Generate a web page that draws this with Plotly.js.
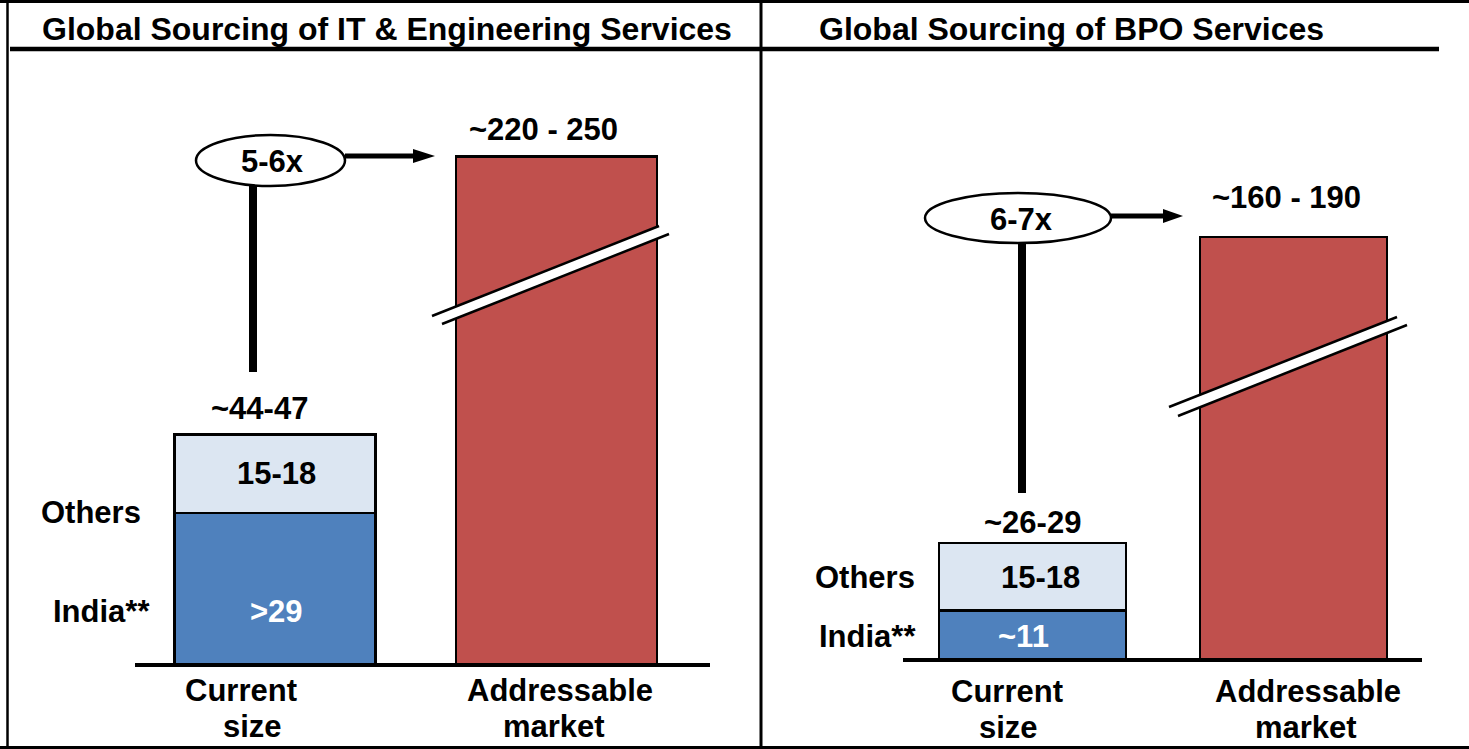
<!DOCTYPE html>
<html>
<head>
<meta charset="utf-8">
<script src="https://cdn.plot.ly/plotly-3.0.1.min.js"></script>
<style>
  html, body { margin: 0; padding: 0; background: #ffffff; }
  #chart { width: 1469px; height: 749px; }
</style>
</head>
<body>
<div id="chart"></div>
<script>
// ---------------- DATA ----------------
const categories = ['Current size', 'Addressable market'];
const categoryLines = [['Current', 'size'], ['Addressable', 'market']];
const panelTitles = ['Global Sourcing of IT & Engineering Services', 'Global Sourcing of BPO Services'];
const seriesNames = ['India**', 'Others'];

// IT & Engineering services (US$ bn); addressable bar is drawn on a broken axis
const itIndia = [29, null];
const itOthers = [15, null];
const itAddressable = [null, 97];
const itValueLabels = ['>29', '15-18', '~44-47', '~220 - 250'];
const itMultiple = '5-6x';

// BPO services (US$ bn); addressable bar is drawn on a broken axis
const bpoIndia = [11, null];
const bpoOthers = [15, null];
const bpoAddressable = [null, 94];
const bpoValueLabels = ['~11', '15-18', '~26-29', '~160 - 190'];
const bpoMultiple = '6-7x';

// ---------------- STYLE ----------------
const W = 1469, H = 749;
const FONT = '"Liberation Sans", Arial, Helvetica, sans-serif';
const C_INDIA = '#4F81BD', C_OTHERS = '#DCE6F2', C_ADDR = '#C0504D';
const OUTLINE = {color: '#000000', width: 2.5};
const BARW = 0.715;

const px = x => x / W;
const py = y => 1 - y / H;

function barTrace(xa, ya, yvals, name, color) {
  return {
    type: 'bar', x: categories, y: yvals, name: name,
    xaxis: xa, yaxis: ya, width: BARW,
    marker: {color: color, line: OUTLINE},
    hoverinfo: 'skip'
  };
}

const traces = [
  barTrace('x', 'y', itIndia, seriesNames[0], C_INDIA),
  barTrace('x', 'y', itOthers, seriesNames[1], C_OTHERS),
  barTrace('x', 'y', itAddressable, categories[1], C_ADDR),
  barTrace('x2', 'y2', bpoIndia, seriesNames[0], C_INDIA),
  barTrace('x2', 'y2', bpoOthers, seriesNames[1], C_OTHERS),
  barTrace('x2', 'y2', bpoAddressable, categories[1], C_ADDR)
];

// ---------------- TEXT ----------------
const annotations = [];
function txt(text, cx, baseline, opts) {
  opts = opts || {};
  const size = opts.size || 31;
  annotations.push({
    text: '<b>' + text + '</b>',
    xref: 'paper', yref: 'paper',
    x: px(cx), y: py(baseline - 0.3465 * size),
    xanchor: opts.anchor || 'center', yanchor: 'middle',
    showarrow: false,
    font: {family: FONT, size: size, color: opts.color || '#000000'}
  });
}

// titles
txt(panelTitles[0], 40, 40, {size: 32, anchor: 'left'});
txt(panelTitles[1], 817, 40, {size: 32, anchor: 'left'});

// IT panel
txt(itValueLabels[3], 543, 140);
txt(itMultiple, 272, 172);
txt(itValueLabels[2], 259, 419);
txt(itValueLabels[1], 276, 484);
txt(itValueLabels[0], 276, 622, {color: '#ffffff'});
txt(seriesNames[1], 91, 523);
txt(seriesNames[0], 101, 622);
txt(categoryLines[0][0], 241, 701);
txt(categoryLines[0][1], 252, 737);
txt(categoryLines[1][0], 560, 701);
txt(categoryLines[1][1], 554, 737);

// BPO panel
txt(bpoValueLabels[3], 1286, 208);
txt(bpoMultiple, 1021, 230);
txt(bpoValueLabels[2], 1032, 533);
txt(bpoValueLabels[1], 1040, 588);
txt(bpoValueLabels[0], 1023, 647, {color: '#ffffff'});
txt(seriesNames[1], 865, 588);
txt(seriesNames[0], 867, 647);
txt(categoryLines[0][0], 1007, 702);
txt(categoryLines[0][1], 1008, 738);
txt(categoryLines[1][0], 1308, 702);
txt(categoryLines[1][1], 1306, 738);

// ---------------- SHAPES ----------------
const shapes = [];
function seg(x0, y0, x1, y1, w, color) {
  shapes.push({type: 'line', xref: 'paper', yref: 'paper',
    x0: px(x0), y0: py(y0), x1: px(x1), y1: py(y1),
    line: {color: color || '#000000', width: w}});
}
function poly(pts, fill) {
  const d = pts.map((p, i) => (i ? 'L' : 'M') + px(p[0]) + ',' + py(p[1])).join(' ') + ' Z';
  shapes.push({type: 'path', xref: 'paper', yref: 'paper', path: d,
    fillcolor: fill, line: {width: 0}});
}
function ellipse(x0, y0, x1, y1) {
  shapes.push({type: 'circle', xref: 'paper', yref: 'paper',
    x0: px(x0), y0: py(y0), x1: px(x1), y1: py(y1),
    fillcolor: '#ffffff', line: {color: '#000000', width: 2.5}});
}
function baseline(yref, x0, x1) {
  shapes.push({type: 'line', xref: 'paper', yref: yref,
    x0: px(x0), x1: px(x1), y0: 0, y1: 0, line: {color: '#000000', width: 4}});
}
function breakMark(u0, u1, l0, l1) {
  poly([u0, u1, l1, l0], '#ffffff');
  seg(u0[0], u0[1], u1[0], u1[1], 2.5);
  seg(l0[0], l0[1], l1[0], l1[1], 2.5);
}

// frame, divider, title rule
seg(7.5, 0, 7.5, 749, 2.5);
seg(0, 1.5, 1469, 1.5, 3);
seg(0, 747.5, 1469, 747.5, 3);
seg(761, 0, 761, 749, 3);
seg(10, 49, 1439, 49, 4.5);

// baselines
baseline('y', 135, 710);
baseline('y2', 903, 1422);

// broken-axis marks
breakMark([432, 316], [659, 226], [442, 324], [669, 234]);
breakMark([1169, 407], [1397, 317], [1178, 416], [1407, 325]);

// growth callouts
seg(253, 186, 253, 372, 8);
ellipse(196, 135, 345, 186);
seg(345, 156, 415, 156, 5);
poly([[413, 149], [435, 156], [413, 163]], '#000000');

seg(1022, 243, 1022, 493, 8);
ellipse(925, 193, 1111, 243);
seg(1111, 216, 1165, 216, 5);
poly([[1163, 209], [1183, 216], [1163, 223]], '#000000');

// ---------------- AXES ----------------
const hidden = {showgrid: false, zeroline: false, showline: false, showticklabels: false, ticks: '', fixedrange: true};
// IT: category 0 centred at 275px, spacing 281.5px; y baseline 665px, 5.24 px/unit
// BPO: category 0 centred at 1032.5px, spacing 261px; y baseline 660px, 4.5 px/unit
const layout = {
  width: W, height: H,
  margin: {l: 0, r: 0, t: 0, b: 0, pad: 0},
  paper_bgcolor: '#ffffff', plot_bgcolor: 'rgba(0,0,0,0)',
  showlegend: false, barmode: 'stack', hovermode: false,
  xaxis: Object.assign({type: 'category', categoryorder: 'array', categoryarray: categories,
    domain: [0, 760 / W], range: [(0 - 275) / 281.5, (760 - 275) / 281.5]}, hidden),
  yaxis: Object.assign({domain: [0, 1], range: [-(749 - 665) / 5.24, 665 / 5.24]}, hidden),
  xaxis2: Object.assign({type: 'category', categoryorder: 'array', categoryarray: categories,
    domain: [760 / W, 1], range: [(760 - 1032.5) / 261, (1469 - 1032.5) / 261], anchor: 'y2'}, hidden),
  yaxis2: Object.assign({domain: [0, 1], range: [-(749 - 660) / 4.5, 660 / 4.5], anchor: 'x2'}, hidden),
  shapes: shapes,
  annotations: annotations
};

Plotly.newPlot('chart', traces, layout, {displayModeBar: false, staticPlot: true});
</script>
</body>
</html>
